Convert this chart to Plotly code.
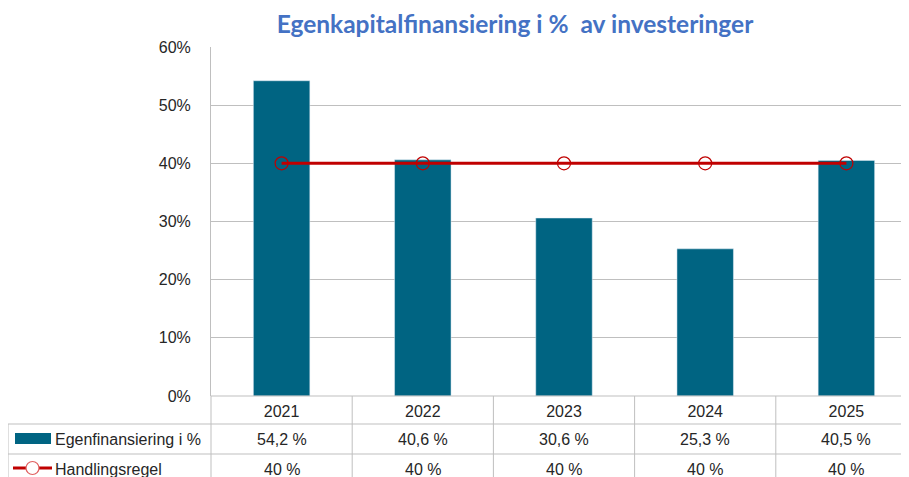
import plotly.graph_objects as go

years = ["2021", "2022", "2023", "2024", "2025"]
egen = [54.2, 40.6, 30.6, 25.3, 40.5]
regel = [40, 40, 40, 40, 40]
egen_labels = ["54,2 %", "40,6 %", "30,6 %", "25,3 %", "40,5 %"]
regel_labels = ["40 %", "40 %", "40 %", "40 %", "40 %"]
series_names = ["Egenfinansiering i %", "Handlingsregel"]
title_text = "Egenkapitalfinansiering i %  av investeringer"

# page body has an 8px margin: work in reference pixels, shift by OFF
OFF = 8
W, H = 909 - OFF, 477 - OFF
L, R_PX, T, B_PX = 211, 917, 47, 396
cat_w = (R_PX - L) / 5.0
xmax = -0.5 + (909 - L) / cat_w
plot_w = 909 - L
plot_h = B_PX - T


def px_x(p):
    return (p - L) / plot_w


def px_y(p):
    return (B_PX - p) / plot_h


FONT = "Liberation Sans"
TFONT = "Lato"
TEAL = "#006482"
RED = "#C00000"
GRID = "#BFBFBF"
TXT = "#262626"
FS = 16

fig = go.Figure()
fig.add_trace(go.Bar(x=list(range(5)), y=egen, width=0.40, marker_color=TEAL,
                     name=series_names[0], showlegend=False))
fig.add_trace(go.Scatter(x=list(range(5)), y=regel, mode="lines+markers",
                         line=dict(color=RED, width=3),
                         marker=dict(symbol="circle-open", size=13,
                                     line=dict(color="#D03030", width=1.2)),
                         name=series_names[1], showlegend=False))

shapes = []
for py in [424, 454, 484]:
    shapes.append(dict(type="line", xref="paper", yref="paper",
                       x0=px_x(8), x1=1.0, y0=px_y(py), y1=px_y(py),
                       line=dict(color=GRID, width=1)))
shapes.append(dict(type="line", xref="paper", yref="paper",
                   x0=px_x(8), x1=px_x(8), y0=px_y(424), y1=px_y(490),
                   line=dict(color=GRID, width=1)))
shapes.append(dict(type="line", xref="paper", yref="paper",
                   x0=0, x1=0, y0=0, y1=px_y(490),
                   line=dict(color=GRID, width=1)))
for i in range(len(years) - 1):
    shapes.append(dict(type="line", xref="x", yref="paper",
                       x0=i + 0.5, x1=i + 0.5, y0=0, y1=px_y(490),
                       line=dict(color=GRID, width=1)))
shapes.append(dict(type="line", xref="paper", yref="paper",
                   x0=0, x1=1, y0=0, y1=0, line=dict(color=GRID, width=1)))
# legend keys
shapes.append(dict(type="rect", xref="paper", yref="paper",
                   x0=px_x(15), x1=px_x(51), y0=px_y(444), y1=px_y(433),
                   fillcolor=TEAL, line=dict(width=0)))
shapes.append(dict(type="line", xref="paper", yref="paper",
                   x0=px_x(13), x1=px_x(52), y0=px_y(468), y1=px_y(468),
                   line=dict(color=RED, width=3)))
shapes.append(dict(type="circle", xref="paper", yref="paper",
                   x0=px_x(26), x1=px_x(39), y0=px_y(474.5), y1=px_y(461.5),
                   fillcolor="white", line=dict(color="#E06060", width=1.2)))

annotations = []
for i in range(len(years)):
    annotations.append(dict(x=i, y=px_y(439.5), xref="x", yref="paper",
                            text=egen_labels[i], showarrow=False,
                            xanchor="center", yanchor="middle",
                            font=dict(family=FONT, size=FS, color=TXT)))
    annotations.append(dict(x=i, y=px_y(469), xref="x", yref="paper",
                            text=regel_labels[i], showarrow=False,
                            xanchor="center", yanchor="middle",
                            font=dict(family=FONT, size=FS, color=TXT)))
annotations.append(dict(x=px_x(53), y=px_y(439.5), xref="paper", yref="paper",
                        text=series_names[0], showarrow=False,
                        xanchor="left", yanchor="middle",
                        font=dict(family=FONT, size=FS, color=TXT)))
annotations.append(dict(x=px_x(53), y=px_y(469), xref="paper", yref="paper",
                        text=series_names[1], showarrow=False,
                        xanchor="left", yanchor="middle",
                        font=dict(family=FONT, size=FS, color=TXT)))

fig.update_layout(
    width=W, height=H,
    margin=dict(l=L - OFF, r=0, t=T - OFF, b=477 - B_PX, pad=0),
    paper_bgcolor="white", plot_bgcolor="white",
    title=dict(text="<b>" + title_text + "</b>", x=(515 - OFF) / W, xref="container",
               xanchor="center", y=1 - (24 - OFF) / H, yanchor="middle", yref="container",
               font=dict(family=TFONT, size=24.5, color="#4472C4")),
    xaxis=dict(range=[-0.5, xmax], tickmode="array", tickvals=list(range(5)),
               ticktext=years, showgrid=False, zeroline=False, showline=False,
               ticks="", ticklabelstandoff=4,
               tickfont=dict(family=FONT, size=FS, color=TXT)),
    yaxis=dict(range=[0, 60], dtick=10, ticksuffix="%", showgrid=True,
               gridcolor=GRID, gridwidth=1, zeroline=False, showline=True,
               linecolor=GRID, linewidth=1, ticks="", ticklabelstandoff=16,
               tickfont=dict(family=FONT, size=FS, color=TXT)),
    shapes=shapes, annotations=annotations, bargap=0.6,
)

fig.write_html("out.html")
